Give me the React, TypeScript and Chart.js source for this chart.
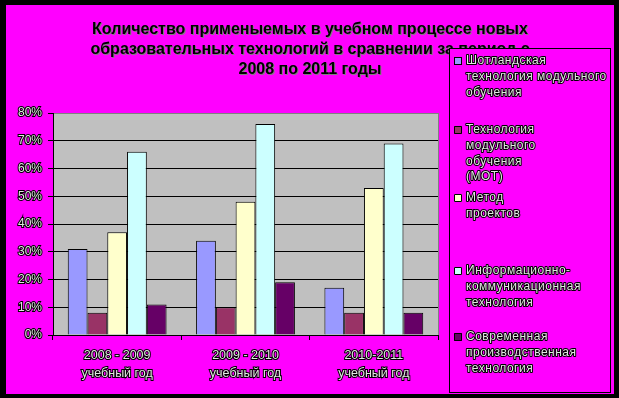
import React, { useEffect, useRef } from 'react';
import { Chart, registerables } from 'chart.js';

Chart.register(...registerables);

const categories: string[][] = [
  ['2008 - 2009', 'учебный год'],
  ['2009 - 2010', 'учебный год'],
  ['2010-2011', 'учебный год'],
];

const seriesNames: string[][] = [
  ['Шотландская', 'технология модульного', 'обучения'],
  ['Технология', 'модульного', 'обучения', '(МОТ)'],
  ['Метод', 'проектов'],
  ['Информационно-', 'коммуникационная', 'технология'],
  ['Современная', 'производственная', 'технология'],
];

const scottishValues = [31, 34, 17];
const motValues = [8, 10, 8];
const projectValues = [37, 48, 53];
const ictValues = [66, 76, 69];
const productionValues = [11, 19, 8];

const seriesColors = ['#9999FF', '#993366', '#FFFFCC', '#CCFFFF', '#660066'];

const yMin = 0;
const yMax = 80;
const yStep = 10;

const titleLines = [
  'Количество применыемых в учебном процессе новых',
  'образовательных технологий в сравнении за период с',
  '2008 по 2011 годы',
];

const FONT = 'Arial, "Liberation Sans", sans-serif';

function outlinedText(ctx: CanvasRenderingContext2D, text: string, x: number, y: number) {
  ctx.lineWidth = 2;
  ctx.strokeStyle = '#000';
  ctx.lineJoin = 'round';
  ctx.strokeText(text, x, y);
  ctx.fillStyle = '#e4e4e4';
  ctx.fillText(text, x, y);
}

const decorPlugin = {
  id: 'decor',
  beforeDraw(chart: any) {
    const { ctx, width, height, chartArea } = chart;
    ctx.save();
    ctx.fillStyle = '#000';
    ctx.fillRect(0, 0, width, height);
    ctx.fillStyle = '#FF00FF';
    ctx.fillRect(6, 5, 608, 389);
    ctx.fillStyle = '#C0C0C0';
    ctx.fillRect(chartArea.left, chartArea.top, chartArea.right - chartArea.left, chartArea.bottom - chartArea.top);
    ctx.restore();
  },
  afterDraw(chart: any) {
    const { ctx, chartArea } = chart;
    ctx.save();
    // plot right border
    ctx.strokeStyle = '#808080';
    ctx.lineWidth = 1;
    ctx.beginPath();
    ctx.moveTo(chartArea.right + 0.5, chartArea.top);
    ctx.lineTo(chartArea.right + 0.5, chartArea.bottom);
    ctx.stroke();

    // title
    ctx.font = `bold 16px ${FONT}`;
    ctx.textAlign = 'center';
    ctx.textBaseline = 'middle';
    titleLines.forEach((line, i) => {
      const y = 30 + i * 20;
      ctx.fillStyle = '#808080';
      ctx.fillText(line, 311, y + 1);
      ctx.fillStyle = '#000';
      ctx.fillText(line, 310, y);
    });

    // legend box
    ctx.fillStyle = '#FF00FF';
    ctx.fillRect(449, 48, 162, 345);
    ctx.strokeStyle = '#000';
    ctx.lineWidth = 1;
    ctx.strokeRect(449.5, 48.5, 161, 344);

    ctx.font = `12px ${FONT}`;
    (ctx as any).letterSpacing = '0.5px';
    ctx.textAlign = 'left';
    ctx.textBaseline = 'middle';
    const starts = [61, 130, 198, 271, 337];
    chart.data.datasets.forEach((ds: any, i: number) => {
      const y0 = starts[i];
      ctx.fillStyle = ds.backgroundColor;
      ctx.fillRect(454, y0 - 4, 8, 8);
      ctx.lineWidth = 1;
      ctx.strokeStyle = '#000';
      ctx.strokeRect(454.5, y0 - 3.5, 7, 7);
      (ds.labelLines as string[]).forEach((t, j) => {
        outlinedText(ctx, t, 466, y0 + j * 15.7);
      });
    });
    ctx.restore();
  },
};

export default function App() {
  const canvasRef = useRef<HTMLCanvasElement | null>(null);

  useEffect(() => {
    document.body.style.margin = '0';
    const canvas = canvasRef.current;
    if (!canvas) return;
    const valueSets = [scottishValues, motValues, projectValues, ictValues, productionValues];
    const chart = new Chart(canvas, {
      type: 'bar',
      data: {
        labels: categories,
        datasets: valueSets.map((vals, i) => ({
          label: seriesNames[i].join(' '),
          labelLines: seriesNames[i],
          data: vals,
          backgroundColor: seriesColors[i],
          borderColor: '#000',
          borderWidth: 1,
          categoryPercentage: 0.77,
          barPercentage: 1,
        })) as any,
      },
      options: {
        responsive: false,
        animation: false,
        devicePixelRatio: 1,
        layout: { padding: { left: 0, right: 181, top: 113, bottom: 0 } },
        plugins: {
          legend: { display: false },
          title: { display: false },
          tooltip: { enabled: false },
        },
        scales: {
          x: {
            afterFit: (s: any) => { s.height = 63; },
            grid: {
              display: true,
              drawOnChartArea: false,
              drawTicks: true,
              tickLength: 5,
              tickColor: '#000',
              offset: true,
            },
            border: { color: '#000', width: 1 },
            ticks: {
              color: '#e4e4e4',
              textStrokeColor: '#000',
              textStrokeWidth: 2,
              padding: 6,
              font: { family: FONT, size: 12.5, lineHeight: 1.45 },
              maxRotation: 0,
              autoSkip: false,
            },
          },
          y: {
            min: yMin,
            max: yMax,
            afterFit: (s: any) => { s.width = 53; },
            grid: {
              color: (c: any) => (c.tick && c.tick.value === yMax ? '#808080' : '#000'),
              tickColor: '#000',
              tickLength: 5,
              lineWidth: 1,
            },
            border: { color: '#000', width: 1 },
            ticks: {
              stepSize: yStep,
              color: '#e4e4e4',
              textStrokeColor: '#000',
              textStrokeWidth: 2,
              padding: 6,
              font: { family: FONT, size: 12 },
              callback: (v: any) => `${v}%`,
            },
          },
        },
      } as any,
      plugins: [decorPlugin],
    });
    return () => chart.destroy();
  }, []);

  return (
    <div style={{ width: 619, height: 398 }}>
      <canvas ref={canvasRef} width={619} height={398} />
    </div>
  );
}
